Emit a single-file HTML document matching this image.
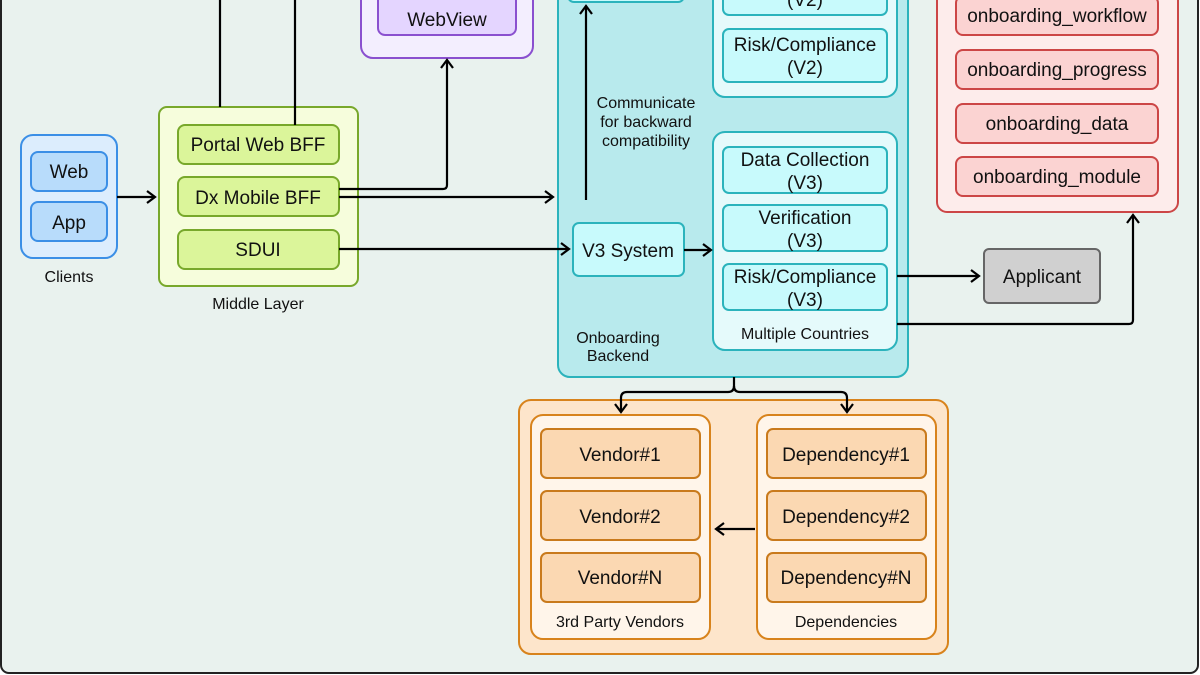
<!DOCTYPE html>
<html><head><meta charset="utf-8"><style>
html,body{margin:0;padding:0;background:#fff}
svg{display:block;font-family:"Liberation Sans",sans-serif}
</style></head><body>
<svg width="1200" height="675" viewBox="0 0 1200 675" xmlns="http://www.w3.org/2000/svg">
<defs>
<marker id="a" markerWidth="14" markerHeight="14" refX="11" refY="7" orient="auto" markerUnits="userSpaceOnUse">
<path d="M3,1 L11,7 L3,13" fill="none" stroke="#000" stroke-width="2.2"/></marker>
</defs>
<rect x="1" y="-10" width="1197" height="683" rx="8" fill="#e9f2ee" stroke="#222" stroke-width="2"/>
<g stroke-width="2">
<rect x="21" y="135" width="96" height="123" rx="12" fill="#dcedfd" stroke="#3b8fe6"/>
<rect x="31" y="152" width="76" height="39" rx="7" fill="#b8dcfb" stroke="#3b8fe6"/>
<rect x="31" y="202" width="76" height="39" rx="7" fill="#b8dcfb" stroke="#3b8fe6"/>
<rect x="159" y="107" width="199" height="179" rx="8" fill="#f6fddc" stroke="#78a82b"/>
<rect x="178" y="125" width="161" height="39" rx="7" fill="#dbf59a" stroke="#78a82b"/>
<rect x="178" y="177" width="161" height="39" rx="7" fill="#dbf59a" stroke="#78a82b"/>
<rect x="178" y="230" width="161" height="39" rx="7" fill="#dbf59a" stroke="#78a82b"/>
<rect x="361" y="-20" width="172" height="78" rx="12" fill="#f3eefe" stroke="#8a50cf"/>
<rect x="378" y="-20" width="138" height="55" rx="7" fill="#e4d5ff" stroke="#8a50cf"/>
<rect x="558" y="-20" width="350" height="397" rx="12" fill="#b8eaed" stroke="#2bb3bc"/>
<rect x="568" y="-20" width="116" height="22" rx="6" fill="#c8fafc" stroke="#2bb3bc"/>
<rect x="713" y="-20" width="184" height="117" rx="12" fill="#e5fafb" stroke="#2bb3bc"/>
<rect x="723" y="-20" width="164" height="35" rx="6" fill="#c8fafc" stroke="#2bb3bc"/>
<rect x="723" y="29" width="164" height="53" rx="6" fill="#c8fafc" stroke="#2bb3bc"/>
<rect x="713" y="132" width="184" height="218" rx="12" fill="#e5fafb" stroke="#2bb3bc"/>
<rect x="723" y="147" width="164" height="46" rx="6" fill="#c8fafc" stroke="#2bb3bc"/>
<rect x="723" y="205" width="164" height="46" rx="6" fill="#c8fafc" stroke="#2bb3bc"/>
<rect x="723" y="264" width="164" height="46" rx="6" fill="#c8fafc" stroke="#2bb3bc"/>
<rect x="573" y="223" width="111" height="53" rx="6" fill="#c8fafc" stroke="#2bb3bc"/>
<rect x="937" y="-20" width="241" height="232" rx="10" fill="#fdeceb" stroke="#cc4646"/>
<rect x="956" y="-4" width="202" height="39" rx="7" fill="#fbd3d2" stroke="#cc4646"/>
<rect x="956" y="50" width="202" height="39" rx="7" fill="#fbd3d2" stroke="#cc4646"/>
<rect x="956" y="104" width="202" height="39" rx="7" fill="#fbd3d2" stroke="#cc4646"/>
<rect x="956" y="157" width="202" height="39" rx="7" fill="#fbd3d2" stroke="#cc4646"/>
<rect x="984" y="249" width="116" height="54" rx="5" fill="#d0d0d0" stroke="#666"/>
<rect x="519" y="400" width="429" height="254" rx="12" fill="#fde5cb" stroke="#d8831c"/>
<rect x="531" y="415" width="179" height="224" rx="12" fill="#fff5ea" stroke="#d8831c"/>
<rect x="757" y="415" width="179" height="224" rx="12" fill="#fff5ea" stroke="#d8831c"/>
<rect x="541" y="429" width="159" height="49" rx="6" fill="#fbd8b2" stroke="#c97a1c"/>
<rect x="541" y="491" width="159" height="49" rx="6" fill="#fbd8b2" stroke="#c97a1c"/>
<rect x="541" y="553" width="159" height="49" rx="6" fill="#fbd8b2" stroke="#c97a1c"/>
<rect x="767" y="429" width="159" height="49" rx="6" fill="#fbd8b2" stroke="#c97a1c"/>
<rect x="767" y="491" width="159" height="49" rx="6" fill="#fbd8b2" stroke="#c97a1c"/>
<rect x="767" y="553" width="159" height="49" rx="6" fill="#fbd8b2" stroke="#c97a1c"/>
</g>
<g stroke="#000" stroke-width="2.2" fill="none">
<path d="M220,0V107"/><path d="M295,0V125"/>
<path d="M117,197H155" marker-end="url(#a)"/>
<path d="M339,189H443Q447,189 447,185V60" marker-end="url(#a)"/>
<path d="M339,197H553" marker-end="url(#a)"/>
<path d="M339,249H569" marker-end="url(#a)"/>
<path d="M586,200V6" marker-end="url(#a)"/>
<path d="M684,250H711" marker-end="url(#a)"/>
<path d="M897,276H979" marker-end="url(#a)"/>
<path d="M897,324H1129Q1133,324 1133,320V215" marker-end="url(#a)"/>
<path d="M734,377V386Q734,392 728,392H627Q621,392 621,398V412" marker-end="url(#a)"/>
<path d="M734,386Q734,392 740,392H841Q847,392 847,398V412" marker-end="url(#a)"/>
<path d="M755,529H716" marker-end="url(#a)"/>
</g>
<g font-size="19" text-anchor="middle" fill="#111">
<text x="69" y="178">Web</text><text x="69" y="229">App</text>
<text x="258" y="151">Portal Web BFF</text><text x="258" y="204">Dx Mobile BFF</text><text x="258" y="256">SDUI</text>
<text x="447" y="0">Platform</text><text x="447" y="26">WebView</text>
<text x="805" y="6">(V2)</text>
<text x="805" y="51">Risk/Compliance</text><text x="805" y="74">(V2)</text>
<text x="805" y="166">Data Collection</text><text x="805" y="189">(V3)</text>
<text x="805" y="224">Verification</text><text x="805" y="247">(V3)</text>
<text x="805" y="283">Risk/Compliance</text><text x="805" y="306">(V3)</text>
<text x="628" y="257">V3 System</text>
<text x="1057" y="22">onboarding_workflow</text><text x="1057" y="76">onboarding_progress</text>
<text x="1057" y="130">onboarding_data</text><text x="1057" y="183">onboarding_module</text>
<text x="1042" y="283">Applicant</text>
<text x="620" y="461">Vendor#1</text><text x="620" y="523">Vendor#2</text><text x="620" y="584">Vendor#N</text>
<text x="846" y="461">Dependency#1</text><text x="846" y="523">Dependency#2</text><text x="846" y="584">Dependency#N</text>
</g>
<g font-size="16" text-anchor="middle" fill="#111">
<text x="69" y="282">Clients</text><text x="258" y="309">Middle Layer</text>
<text x="646" y="108">Communicate</text><text x="646" y="127">for backward</text><text x="646" y="146">compatibility</text>
<text x="618" y="343">Onboarding</text><text x="618" y="361">Backend</text>
<text x="805" y="339">Multiple Countries</text>
<text x="620" y="627">3rd Party Vendors</text><text x="846" y="627">Dependencies</text>
</g>
</svg>
</body></html>
